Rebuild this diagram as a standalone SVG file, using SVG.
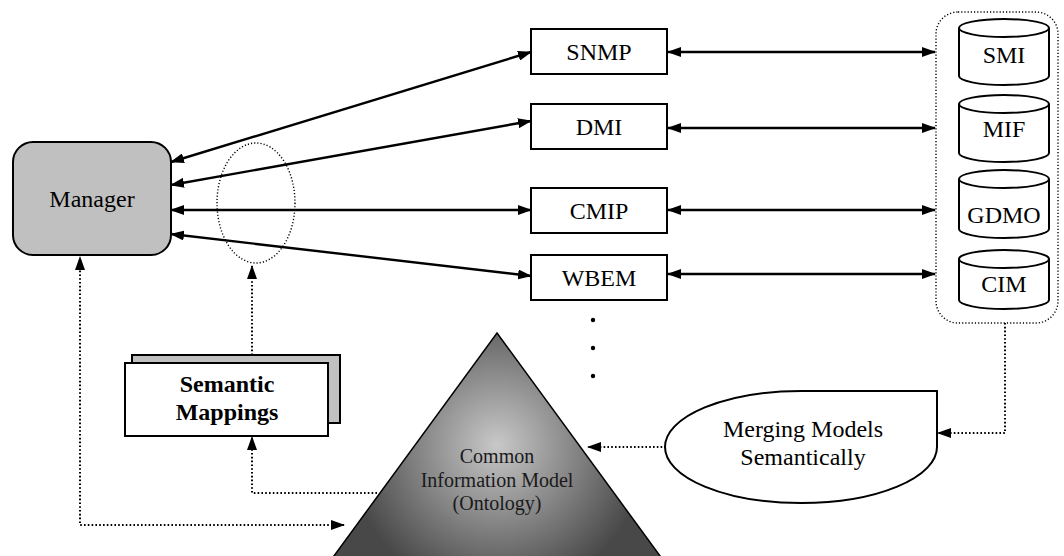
<svg xmlns="http://www.w3.org/2000/svg" width="1064" height="556" viewBox="0 0 1064 556">
  <style>
    .txt { font-family: "Liberation Serif", "Times New Roman", serif; font-size: 24px; fill: #000; text-anchor: middle; }
    .bold { font-weight: bold; }
    .small { font-size: 20px; fill: #1a1a1a; }
    .box { fill: #fff; stroke: #000; stroke-width: 2; }
    .cyl { fill: #fff; stroke: #000; stroke-width: 2; }
    .solid { fill: none; stroke: #000; stroke-width: 2.4; }
    .dot { fill: none; stroke: #000; stroke-width: 2; stroke-dasharray: 1.6 2.2; }
    .dotthin { fill: none; stroke: #000; stroke-width: 1.4; stroke-dasharray: 1.2 2; }
  </style>
  <defs>
    <marker id="arrow" viewBox="0 0 14 10" refX="13" refY="5" markerWidth="14" markerHeight="10" markerUnits="userSpaceOnUse" orient="auto-start-reverse">
      <path d="M0,0 L14,5 L0,10 Z" fill="#000"/>
    </marker>
    <radialGradient id="pyramid" gradientUnits="userSpaceOnUse" cx="497" cy="445" r="150">
      <stop offset="0" stop-color="#c8c8c8"/>
      <stop offset="0.45" stop-color="#8e8e8e"/>
      <stop offset="1" stop-color="#484848"/>
    </radialGradient>
  </defs>

  <!-- dotted grouping ellipse across the manager links -->
  <ellipse id="mapping-zone" cx="256" cy="203" rx="39" ry="60" class="dotthin"/>

  <!-- dotted container around the information models -->
  <rect id="model-store" x="936" y="12" width="122" height="311" rx="22" ry="22" class="dotthin"/>

  <g id="connectors">
    <!-- manager to protocol boxes -->
    <line x1="171" y1="162" x2="531" y2="52" class="solid" marker-start="url(#arrow)" marker-end="url(#arrow)"/>
    <line x1="171" y1="185" x2="531" y2="121" class="solid" marker-start="url(#arrow)" marker-end="url(#arrow)"/>
    <line x1="171" y1="210" x2="531" y2="210" class="solid" marker-start="url(#arrow)" marker-end="url(#arrow)"/>
    <line x1="171" y1="234" x2="531" y2="276" class="solid" marker-start="url(#arrow)" marker-end="url(#arrow)"/>
    <!-- protocol boxes to model store -->
    <line x1="668" y1="52" x2="935" y2="52" class="solid" marker-start="url(#arrow)" marker-end="url(#arrow)"/>
    <line x1="668" y1="128" x2="935" y2="128" class="solid" marker-start="url(#arrow)" marker-end="url(#arrow)"/>
    <line x1="668" y1="210" x2="935" y2="210" class="solid" marker-start="url(#arrow)" marker-end="url(#arrow)"/>
    <line x1="668" y1="274" x2="935" y2="274" class="solid" marker-start="url(#arrow)" marker-end="url(#arrow)"/>
    <!-- dotted flows -->
    <path d="M252,355 L252,266" class="dot" marker-end="url(#arrow)"/>
    <path d="M344,525 L80,525 L80,257" class="dot" marker-start="url(#arrow)" marker-end="url(#arrow)"/>
    <path d="M377,493 L252,493 L252,437" class="dot" marker-end="url(#arrow)"/>
    <path d="M1005,323 L1005,433 L938,433" class="dot" marker-end="url(#arrow)"/>
    <path d="M666,447 L588,447" class="dot" marker-end="url(#arrow)"/>
  </g>

  <g id="manager">
    <rect x="13" y="142" width="158" height="113" rx="20" ry="20" fill="#c0c0c0" stroke="#000" stroke-width="2"/>
    <text x="92" y="207" class="txt">Manager</text>
  </g>

  <g id="snmp">
    <rect x="531" y="29" width="136" height="45" class="box"/>
    <text x="599" y="60" class="txt">SNMP</text>
  </g>
  <g id="dmi">
    <rect x="531" y="104" width="136" height="45" class="box"/>
    <text x="599" y="135" class="txt">DMI</text>
  </g>
  <g id="cmip">
    <rect x="531" y="188" width="136" height="45" class="box"/>
    <text x="599" y="219" class="txt">CMIP</text>
  </g>
  <g id="wbem">
    <rect x="531" y="255" width="136" height="45" class="box"/>
    <text x="599" y="286" class="txt">WBEM</text>
  </g>

  <g id="more">
    <circle cx="593" cy="320" r="2.2" fill="#000"/>
    <circle cx="593" cy="348" r="2.2" fill="#000"/>
    <circle cx="593" cy="376" r="2.2" fill="#000"/>
  </g>

  <g id="smi">
    <path d="M959,28 L959,76 A45,9 0 0 0 1049,76 L1049,28" class="cyl"/>
    <ellipse cx="1004" cy="28" rx="45" ry="9" class="cyl"/>
    <text x="1004" y="63" class="txt">SMI</text>
  </g>
  <g id="mif">
    <path d="M959,104 L959,153 A45,9 0 0 0 1049,153 L1049,104" class="cyl"/>
    <ellipse cx="1004" cy="104" rx="45" ry="9" class="cyl"/>
    <text x="1004" y="137" class="txt">MIF</text>
  </g>
  <g id="gdmo">
    <path d="M959,179 L959,229 A45,9 0 0 0 1049,229 L1049,179" class="cyl"/>
    <ellipse cx="1004" cy="179" rx="45" ry="9" class="cyl"/>
    <text x="1004" y="223" class="txt">GDMO</text>
  </g>
  <g id="cim">
    <path d="M959,259 L959,300 A45,9 0 0 0 1049,300 L1049,259" class="cyl"/>
    <ellipse cx="1004" cy="259" rx="45" ry="9" class="cyl"/>
    <text x="1004" y="292" class="txt">CIM</text>
  </g>

  <g id="semantic-mappings">
    <rect x="132" y="355" width="208" height="68" fill="#c0c0c0" stroke="#000" stroke-width="2"/>
    <rect x="125" y="363" width="203" height="73" class="box"/>
    <text x="227" y="392" class="txt bold">Semantic</text>
    <text x="227" y="420" class="txt bold">Mappings</text>
  </g>

  <g id="ontology">
    <path d="M497,333 L663,560 L331,560 Z" fill="url(#pyramid)" stroke="#000" stroke-width="1.5"/>
    <text x="497" y="463" class="txt small">Common</text>
    <text x="497" y="487" class="txt small">Information Model</text>
    <text x="497" y="510" class="txt small">(Ontology)</text>
  </g>

  <g id="merging">
    <path d="M801,391 L937,391 L937,447 A136,56 0 0 1 801,503 A136,56 0 0 1 665,447 A136,56 0 0 1 801,391 Z" fill="#fff" stroke="#000" stroke-width="2"/>
    <text x="803" y="437" class="txt">Merging Models</text>
    <text x="803" y="465" class="txt">Semantically</text>
  </g>
</svg>
